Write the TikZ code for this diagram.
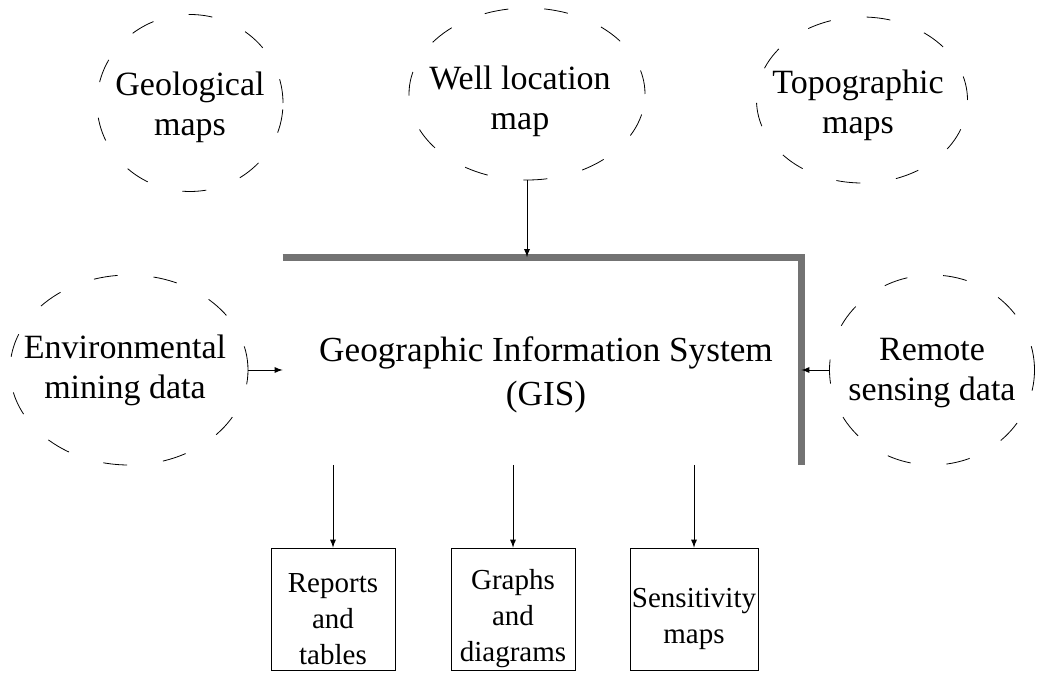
\documentclass[tikz,border=0pt]{standalone}
\usepackage{fontspec}
\setmainfont{Liberation Serif}
\usetikzlibrary{shapes.geometric}
\newcommand{\topgap}{\rule{0pt}{19.5pt}}
\begin{document}
\begin{tikzpicture}[x=0.5pt, y=-0.5pt, >=latex,
    input ring/.style={ellipse, draw, thin, inner sep=0pt, dash pattern=on 12pt off 18pt},
    input text/.style={align=center, font=\fontsize{17}{20}\selectfont},
    output node/.style={rectangle, draw, thin, inner sep=1pt, minimum width=62pt, minimum height=61pt, align=center, font=\fontsize{14.5}{18}\selectfont},
    gis edge/.style={line width=3.5pt, color=black!55}]

    \useasboundingbox (0,0) rectangle (1039,673);

    % Input data
    \node[input ring, minimum width=93pt, minimum height=88.5pt] (geo) at (190,103) {};
    \node[input text] (geotext) at (190,107) {Geological\\maps};
    \node[input ring, minimum width=118pt, minimum height=86pt] (well) at (527,94) {};
    \node[input text] (welltext) at (520,101) {Well location\\map};
    \node[input ring, minimum width=105.5pt, minimum height=83pt] (topo) at (862,100) {};
    \node[input text] (topotext) at (858,105) {Topographic\\maps};
    \node[input ring, minimum width=119pt, minimum height=95pt] (env) at (129,370) {};
    \node[input text] (envtext) at (125,370) {Environmental\\mining data};
    \node[input ring, minimum width=102.5pt, minimum height=95pt] (remote) at (932,370) {};
    \node[input text] (remotetext) at (932,373) {Remote\\sensing data};

    % GIS
    \node[minimum width=259pt, minimum height=103.5pt] (gis) at (542,361) {};
    \node[align=center, font=\fontsize{17.6}{22}\selectfont] (gistext) at (546,375) {Geographic Information System\\(GIS)};
    \draw[gis edge] (gis.north west) -- (gis.north east) -- (gis.south east);

    % Outputs
    \node[output node] (reports) at (333,609) {\topgap Reports\\and\\tables};
    \node[output node] (graphs) at (513,609) {\topgap Graphs\\and\\diagrams};
    \node[output node] (sens) at (694,609) {\topgap Sensitivity\\maps};

    \draw[->] (well.south) -- (well.south |- gis.north);
    \draw[->] (env.east) -- (env.east -| gis.west);
    \draw[->] (remote.west) -- (remote.west -| gis.east);

    \draw[->] (reports.north |- gis.south) -- (reports.north);
    \draw[->] (graphs.north |- gis.south) -- (graphs.north);
    \draw[->] (sens.north |- gis.south) -- (sens.north);

\end{tikzpicture}
\end{document}
